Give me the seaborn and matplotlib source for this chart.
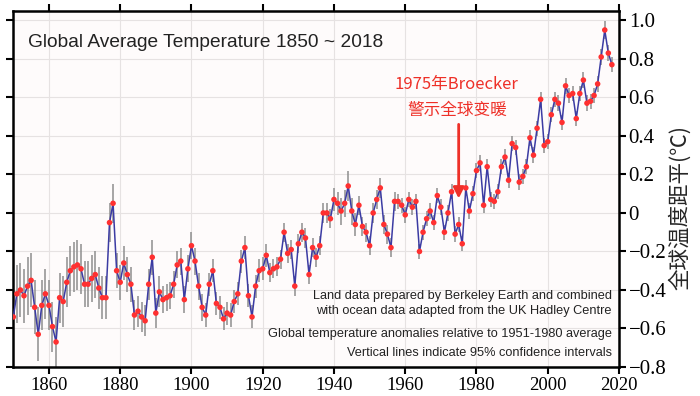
import matplotlib
matplotlib.use("Agg")
import matplotlib.pyplot as plt
import numpy as np
import pandas as pd
import seaborn as sns

# annual global anomaly (deg C), 1850..2018
years = list(range(1850, 2019))
anomaly = [
    -0.54, -0.42, -0.40, -0.43, -0.38, -0.35, -0.49, -0.63, -0.48, -0.42,
    -0.48, -0.59, -0.67, -0.44, -0.46, -0.36, -0.30, -0.28, -0.27, -0.29,
    -0.37, -0.37, -0.34, -0.32, -0.39, -0.44, -0.44, -0.05, 0.05, -0.30,
    -0.36, -0.26, -0.32, -0.37, -0.53, -0.51, -0.54, -0.56, -0.37, -0.23,
    -0.52, -0.41, -0.45, -0.44, -0.43, -0.37, -0.27, -0.25, -0.45, -0.29,
    -0.17, -0.25, -0.38, -0.49, -0.53, -0.37, -0.30, -0.47, -0.49, -0.55,
    -0.52, -0.53, -0.46, -0.42, -0.25, -0.18, -0.43, -0.54, -0.38, -0.30,
    -0.29, -0.22, -0.31, -0.29, -0.28, -0.24, -0.10, -0.21, -0.19, -0.38,
    -0.16, -0.10, -0.13, -0.32, -0.18, -0.23, -0.17, 0.00, 0.00, -0.03,
    0.07, 0.05, 0.01, 0.05, 0.14, 0.01, -0.06, 0.04, -0.07, -0.10,
    -0.17, 0.00, 0.07, 0.13, -0.06, -0.11, -0.18, 0.06, 0.06, 0.04,
    -0.01, 0.07, 0.03, 0.06, -0.20, -0.10, -0.03, 0.01, -0.05, 0.09,
    0.03, -0.10, 0.00, 0.11, -0.11, -0.06, -0.16, 0.13, 0.01, 0.10,
    0.22, 0.26, 0.04, 0.24, 0.07, 0.06, 0.11, 0.24, 0.29, 0.17,
    0.36, 0.34, 0.16, 0.19, 0.24, 0.39, 0.30, 0.44, 0.59, 0.35,
    0.37, 0.51, 0.59, 0.57, 0.47, 0.66, 0.61, 0.62, 0.49, 0.62,
    0.69, 0.57, 0.58, 0.61, 0.67, 0.81, 0.95, 0.83, 0.77,
]
# half-width of the 95% confidence bars
ci95 = [
    0.15, 0.15, 0.14, 0.14, 0.15, 0.14, 0.14, 0.14, 0.13, 0.13,
    0.13, 0.13, 0.13, 0.13, 0.13, 0.13, 0.13, 0.13, 0.13, 0.13,
    0.12, 0.12, 0.12, 0.12, 0.11, 0.11, 0.11, 0.10, 0.10, 0.09,
    0.09, 0.09, 0.09, 0.09, 0.08, 0.08, 0.08, 0.08, 0.08, 0.09,
    0.08, 0.08, 0.07, 0.07, 0.07, 0.07, 0.07, 0.07, 0.07, 0.07,
    0.07, 0.07, 0.07, 0.07, 0.06, 0.06, 0.06, 0.06, 0.06, 0.06,
    0.06, 0.06, 0.06, 0.06, 0.06, 0.06, 0.06, 0.06, 0.06, 0.06,
    0.06, 0.06, 0.05, 0.05, 0.05, 0.05, 0.05, 0.05, 0.05, 0.05,
    0.05, 0.05, 0.05, 0.05, 0.05, 0.05, 0.05, 0.05, 0.05, 0.05,
    0.06, 0.06, 0.07, 0.07, 0.08, 0.07, 0.06, 0.05, 0.05, 0.05,
    0.05, 0.05, 0.05, 0.05, 0.05, 0.05, 0.05, 0.05, 0.04, 0.04,
    0.04, 0.04, 0.04, 0.04, 0.04, 0.04, 0.04, 0.04, 0.04, 0.04,
    0.04, 0.04, 0.04, 0.04, 0.04, 0.04, 0.04, 0.04, 0.04, 0.04,
    0.04, 0.04, 0.04, 0.04, 0.04, 0.04, 0.04, 0.04, 0.04, 0.04,
    0.04, 0.04, 0.04, 0.04, 0.04, 0.04, 0.04, 0.04, 0.04, 0.04,
    0.04, 0.04, 0.04, 0.04, 0.04, 0.04, 0.04, 0.04, 0.04, 0.04,
    0.04, 0.04, 0.04, 0.04, 0.04, 0.04, 0.045, 0.04, 0.04,
]

xticks = [1860, 1880, 1900, 1920, 1940, 1960, 1980, 2000, 2020]
yticks = [-0.8, -0.6, -0.4, -0.2, 0.0, 0.2, 0.4, 0.6, 0.8, 1.0]
ytick_labels = ["\u22120.8", "\u22120.6", "\u22120.4", "\u22120.2", "0",
                "0.2", "0.4", "0.6", "0.8", "1.0"]

title = "Global Average Temperature 1850 ~ 2018"
notes = ["Land data prepared by Berkeley Earth and combined",
         "with ocean data adapted from the UK Hadley Centre",
         "Global temperature anomalies relative to 1951-1980 average",
         "Vertical lines indicate 95% confidence intervals"]
callout = ["1975年Broecker", "警示全球变暖"]
callout_year = 1975
ylabel = "全球温度距平(℃)"

df = pd.DataFrame({"year": years, "anomaly": anomaly, "ci": ci95})

sns.set_theme(style="ticks")
plt.rcParams["font.family"] = ["Liberation Serif", "DejaVu Serif"]

fig = plt.figure(figsize=(7, 3.96), dpi=100)
ax = fig.add_axes([0.019, 0.0732, 0.8653, 0.8997])
ax.set_facecolor("#fefbfb")

ax.vlines(df["year"], df["anomaly"] - df["ci"], df["anomaly"] + df["ci"],
          color="#8e8e8e", lw=1.1, zorder=2)
sns.lineplot(data=df, x="year", y="anomaly", color="#3b3ba3", lw=1.1,
             ax=ax, zorder=3)
sns.scatterplot(data=df, x="year", y="anomaly", color="#ff3030", s=16,
                edgecolor="none", ax=ax, zorder=4)

ax.set_xlim(1850, 2020)
ax.set_ylim(-0.8, 1.05)
ax.set_xticks(xticks)
ax.set_yticks(yticks)
ax.set_yticklabels(ytick_labels)
ax.set_xlabel("")
ax.set_ylabel("")
ax.grid(True, color="#e6e2e2", lw=0.8)
ax.set_axisbelow(True)
ax.tick_params(which="both", direction="out", top=True, bottom=True,
               left=True, right=True, labelleft=False, labelright=True,
               length=5, width=1.5, pad=2, colors="black")
ax.tick_params(axis="x", labelsize=13.5)
ax.tick_params(axis="y", labelsize=15)
for s in ax.spines.values():
    s.set_linewidth(1.8)
    s.set_color("black")

ax.text(1854.2, 0.86, title, family="Liberation Sans", fontsize=13.8,
        ha="left", va="baseline", color="#222222")

red = "#ee3028"
ax.text(callout_year - 0.5, 0.665, callout[0], family=["Noto Sans CJK SC"],
        fontsize=12, color=red, ha="center", va="center")
ax.text(callout_year - 0.5, 0.535, callout[1], family=["Noto Sans CJK SC"],
        fontsize=12, color=red, ha="center", va="center")
ax.annotate("", xy=(callout_year, 0.075), xytext=(callout_year, 0.46),
            arrowprops=dict(arrowstyle="-|>", color=red, lw=2,
                            mutation_scale=16, shrinkA=0, shrinkB=0))

note_y = [-0.43, -0.51, -0.63, -0.725]
for txt, yy in zip(notes, note_y):
    ax.text(2018, yy, txt, family="Liberation Sans", fontsize=9.2,
            ha="right", va="center", color="#222222")

fig.text(0.971, 0.477, ylabel, family=["Noto Sans CJK SC", "DejaVu Sans"],
         fontsize=15.5, rotation=90, ha="center", va="center")

fig.savefig("out.png", dpi=100)
